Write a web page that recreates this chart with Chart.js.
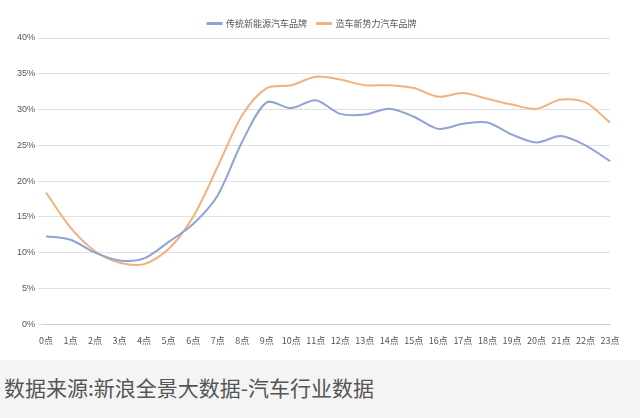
<!DOCTYPE html>
<html><head><meta charset="utf-8">
<script src="https://cdn.jsdelivr.net/npm/chart.js@4"></script>
<style>
body{margin:0;background:#f4f4f4;font-family:"Noto Sans CJK SC",sans-serif;}
#wrap{position:absolute;left:0;top:0;width:640px;height:360px;background:#fff;}
#cap{position:absolute;left:4px;top:372px;font-size:21px;color:#555;}
</style></head><body>
<div id="wrap"><canvas id="c" width="640" height="360"></canvas></div>
<div id="cap">数据来源:新浪全景大数据-汽车行业数据</div>
<script>
const categories=["0点","1点","2点","3点","4点","5点","6点","7点","8点","9点","10点","11点","12点","13点","14点","15点","16点","17点","18点","19点","20点","21点","22点","23点"];
const traditional=[12.3,11.8,10,8.9,9.2,11.5,14,18,25.5,31,30.2,31.3,29.4,29.3,30.1,29,27.3,28,28.2,26.5,25.4,26.3,25,22.8];
const newForces=[18.4,13.5,10.2,8.6,8.4,10.5,15,22,29.2,33,33.4,34.6,34.2,33.4,33.4,33,31.8,32.3,31.5,30.7,30.1,31.4,31,28.2];
new Chart(document.getElementById('c'),{type:'line',
data:{labels:categories,datasets:[
{label:'传统新能源汽车品牌',data:traditional,borderColor:'#8fa3d4',borderWidth:2,pointRadius:0,tension:0.3},
{label:'造车新势力汽车品牌',data:newForces,borderColor:'#f0b27e',borderWidth:2,pointRadius:0,tension:0.3}]},
options:{responsive:false,animation:false,
layout:{padding:{left:14,right:30,top:9,bottom:11}},
plugins:{legend:{labels:{boxWidth:14,boxHeight:1,font:{size:9,family:"Noto Sans CJK SC"},color:'#555'}}},
scales:{x:{grid:{display:false},ticks:{font:{size:9,family:"Noto Sans CJK SC"},color:'#555',maxRotation:0,autoSkip:false}},
y:{min:0,max:40,border:{display:false},grid:{color:'#e0e0e0'},ticks:{stepSize:5,callback:v=>v+'%',font:{size:9},color:'#555'}}}}});
</script></body></html>
